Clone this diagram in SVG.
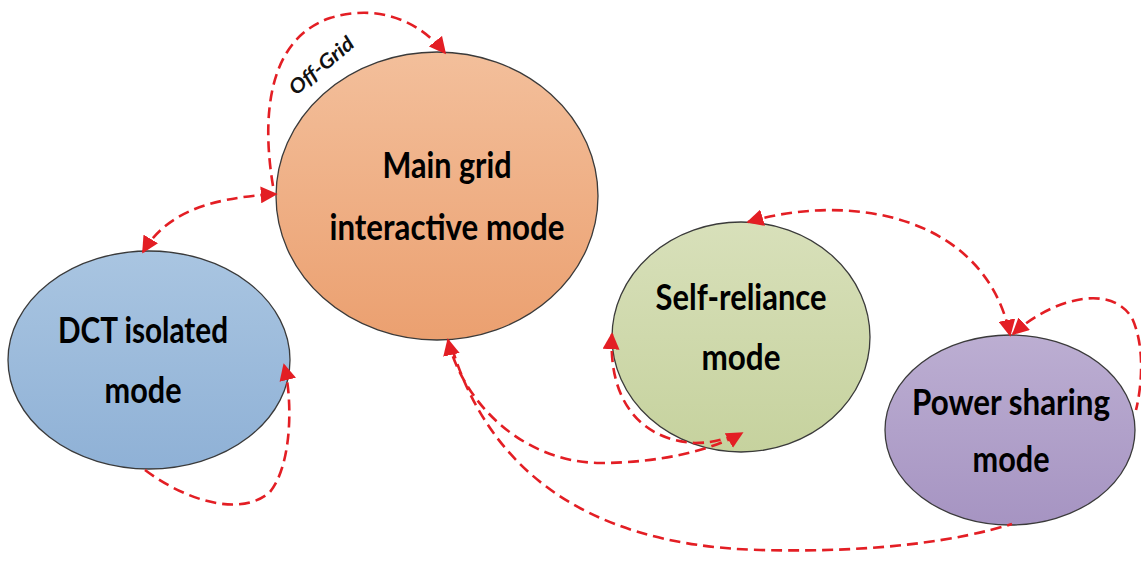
<svg xmlns="http://www.w3.org/2000/svg" width="1141" height="578" viewBox="0 0 1141 578">
  <style>
    .node { stroke: #3a3a3a; stroke-width: 1.3; }
    .label { font-family: Lato, "Open Sans", sans-serif; font-weight: bold; font-size: 36px; fill: #000; text-anchor: middle; }
    .link { fill: none; stroke: #e31e24; stroke-width: 2.6; stroke-dasharray: 11 6; }
    .tag { font-family: Lato, "Open Sans", sans-serif; font-style: italic; font-weight: bold; font-size: 20px; fill: #111; }
  </style>
  <defs>
    <linearGradient id="gOrange" x1="0" y1="0" x2="0" y2="1">
      <stop offset="0" stop-color="#f3bf9b"/>
      <stop offset="1" stop-color="#eba070"/>
    </linearGradient>
    <linearGradient id="gBlue" x1="0" y1="0" x2="0" y2="1">
      <stop offset="0" stop-color="#a9c5e1"/>
      <stop offset="1" stop-color="#8fb1d6"/>
    </linearGradient>
    <linearGradient id="gGreen" x1="0" y1="0" x2="0" y2="1">
      <stop offset="0" stop-color="#d8e0ba"/>
      <stop offset="1" stop-color="#c6d29e"/>
    </linearGradient>
    <linearGradient id="gPurple" x1="0" y1="0" x2="0" y2="1">
      <stop offset="0" stop-color="#bcaed2"/>
      <stop offset="1" stop-color="#a694c2"/>
    </linearGradient>
    <marker id="arrow" viewBox="0 0 10 10" refX="9" refY="5" markerWidth="6.5" markerHeight="6.5" orient="auto-start-reverse" markerUnits="strokeWidth">
      <path d="M0,0 L10,5 L0,10 Z" fill="#e31e24"/>
    </marker>
  </defs>

  <g id="node-main">
    <ellipse class="node" cx="437" cy="196" rx="161" ry="144" fill="url(#gOrange)"/>
    <text class="label" x="447" y="178" textLength="129" lengthAdjust="spacingAndGlyphs">Main grid</text>
    <text class="label" x="447" y="240" textLength="235" lengthAdjust="spacingAndGlyphs">interactive mode</text>
  </g>
  <g id="node-dct">
    <ellipse class="node" cx="149" cy="360" rx="141" ry="109" fill="url(#gBlue)"/>
    <text class="label" x="143" y="343" textLength="170" lengthAdjust="spacingAndGlyphs">DCT isolated</text>
    <text class="label" x="143" y="403" textLength="77" lengthAdjust="spacingAndGlyphs">mode</text>
  </g>
  <g id="node-self">
    <ellipse class="node" cx="741" cy="337" rx="129" ry="115" fill="url(#gGreen)"/>
    <text class="label" x="741" y="310" textLength="171" lengthAdjust="spacingAndGlyphs">Self-reliance</text>
    <text class="label" x="741" y="370" textLength="79" lengthAdjust="spacingAndGlyphs">mode</text>
  </g>
  <g id="node-power">
    <ellipse class="node" cx="1010" cy="430" rx="125" ry="95" fill="url(#gPurple)"/>
    <text class="label" x="1011" y="415" textLength="198" lengthAdjust="spacingAndGlyphs">Power sharing</text>
    <text class="label" x="1011" y="472" textLength="77" lengthAdjust="spacingAndGlyphs">mode</text>
  </g>

  <g id="connectors">
    <!-- off-grid loop over the top of the main grid node -->
    <path class="link" d="M273,186 C262,120 266,40 330,18 C380,3 420,22 445,53" marker-end="url(#arrow)"/>
    <text class="tag" transform="translate(296,96) rotate(-40)" textLength="78" lengthAdjust="spacingAndGlyphs">Off-Grid</text>
    <!-- DCT isolated <-> main grid -->
    <path class="link" d="M143,252 C165,215 205,198 276,194" marker-start="url(#arrow)" marker-end="url(#arrow)"/>
    <!-- DCT isolated self loop -->
    <path class="link" d="M145,470 C185,500 240,518 270,492 C292,465 293,400 284,365" marker-end="url(#arrow)"/>
    <!-- main grid <-> self-reliance -->
    <path class="link" d="M448,340 C462,400 520,462 600,463 C660,463 712,450 742,433" marker-start="url(#arrow)" marker-end="url(#arrow)"/>
    <!-- self-reliance self loop -->
    <path class="link" d="M612,334 C608,400 640,440 695,443 C715,443 728,438 740,433" marker-start="url(#arrow)"/>
    <!-- self-reliance <-> power sharing -->
    <path class="link" d="M748,222 C850,192 985,215 1010,335" marker-start="url(#arrow)" marker-end="url(#arrow)"/>
    <!-- power sharing self loop -->
    <path class="link" d="M1013,334 C1050,300 1110,282 1132,318 C1146,348 1141,390 1136,410" marker-start="url(#arrow)"/>
    <!-- main grid <-> power sharing -->
    <path class="link" d="M452,348 C485,455 570,545 760,550 C880,553 960,540 1012,524"/>
  </g>
</svg>
